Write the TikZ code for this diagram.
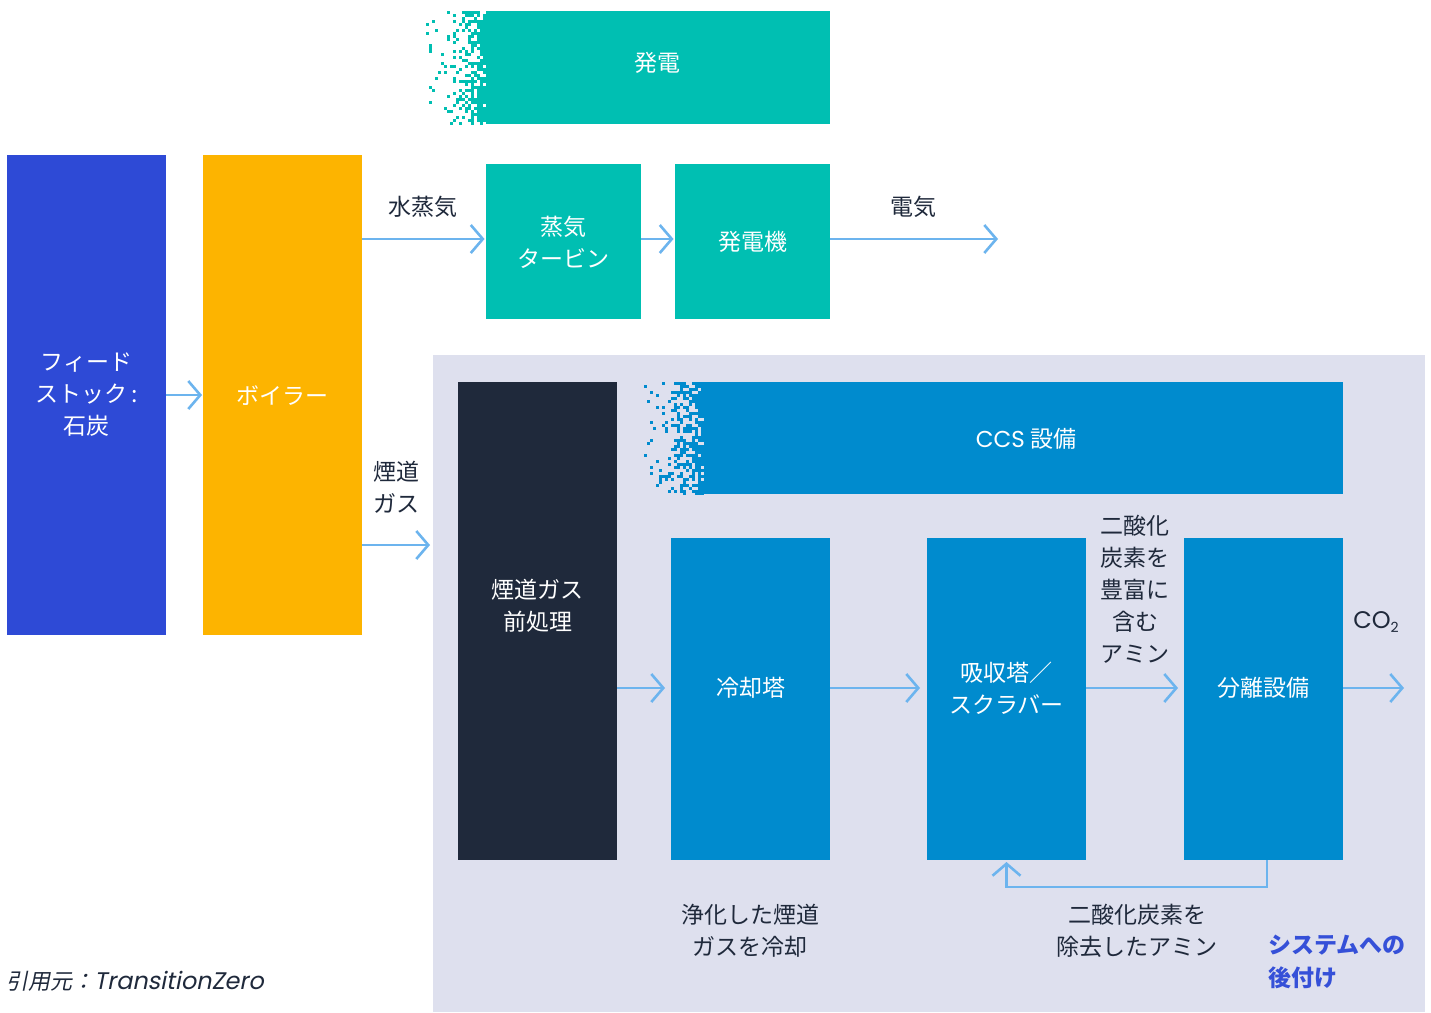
\documentclass[tikz,border=0pt]{standalone}
\usepackage{fontspec}
\setmainfont{Noto Sans CJK JP}
\newfontfamily\latinfont{Poppins}
\newfontfamily\latinit[FakeSlant=0.2]{Poppins}
\newfontfamily\citefont[FakeSlant=0.2]{Noto Sans CJK JP}
\usetikzlibrary{arrows.meta,calc}
\definecolor{feedblue}{HTML}{2E4AD6}
\definecolor{boilerc}{HTML}{FDB400}
\definecolor{tealc}{HTML}{00BFB2}
\definecolor{panelc}{HTML}{DEE0EE}
\definecolor{darkc}{HTML}{1F293B}
\definecolor{ccsblue}{HTML}{008BCE}
\definecolor{arrowc}{HTML}{6CB4EE}
\definecolor{textc}{HTML}{1F293B}
\definecolor{retroc}{HTML}{3550D8}
\tikzset{
  box/.style={draw=none, inner sep=0pt, outer sep=0pt, anchor=north west},
  boxtext/.style={text=white, align=center, font=\fontsize{23}{32}\selectfont, inner sep=0pt},
  lbl/.style={text=textc, align=center, font=\fontsize{23}{32}\selectfont, inner sep=0pt},
  flow/.style={draw=arrowc, line width=2.6pt, -{Straight Barb[length=12pt,width=28pt]}},
}
\def\dithprobs{0/0.04,1/0.05,2/0.06,3/0.07,4/0.08,5/0.09,6/0.11,7/0.13,8/0.15,9/0.18,10/0.25,11/0.30,12/0.36,13/0.42,14/0.48,15/0.55,16/0.62,17/0.70,18/0.78,19/0.86}
\begin{document}
\begin{tikzpicture}[x=1pt,y=-1pt]
\useasboundingbox[fill=white] (0,0) rectangle (1431,1012);

% panel
\node[box, fill=panelc, minimum width=992pt, minimum height=657pt] (panel) at (433,355) {};

% power header with dither
\node[box, fill=tealc, minimum width=344pt, minimum height=113pt] (power) at (486,11) {};
\begin{scope}
\clip (420,11) rectangle (486.5,124);
\pgfmathsetseed{12}
\foreach \i/\p in \dithprobs {
  \foreach \j in {0,...,37}{
    \pgfmathtruncatemacro\hit{rnd<\p ? 1 : 0}
    \ifnum\hit=1 \fill[tealc] ({426+3*\i},{11+3*\j}) rectangle ++(3.2,3.2);\fi
  }
}
\end{scope}
\node[boxtext] (t-power) at (657,63) {発電};

% CCS header with dither
\node[box, fill=ccsblue, minimum width=639pt, minimum height=112pt] (ccs) at (704,382) {};
\begin{scope}
\clip (638,382) rectangle (704.5,494);
\pgfmathsetseed{31}
\foreach \i/\p in \dithprobs {
  \foreach \j in {0,...,37}{
    \pgfmathtruncatemacro\hit{rnd<\p ? 1 : 0}
    \ifnum\hit=1 \fill[ccsblue] ({644+3*\i},{382+3*\j}) rectangle ++(3.2,3.2);\fi
  }
}
\end{scope}
\node[boxtext] (t-ccs) at (1026,439) {{\latinfont CCS} 設備};

% main boxes
\node[box, fill=feedblue, minimum width=159pt, minimum height=480pt] (feed) at (7,155) {};
\node[box, fill=boilerc, minimum width=159pt, minimum height=480pt] (boiler) at (203,155) {};
\node[box, fill=tealc, minimum width=155pt, minimum height=155pt] (turb) at (486,164) {};
\node[box, fill=tealc, minimum width=155pt, minimum height=155pt] (gen) at (675,164) {};
\node[box, fill=darkc, minimum width=159pt, minimum height=478pt] (pre) at (458,382) {};
\node[box, fill=ccsblue, minimum width=159pt, minimum height=322pt] (cool) at (671,538) {};
\node[box, fill=ccsblue, minimum width=159pt, minimum height=322pt] (abs) at (927,538) {};
\node[box, fill=ccsblue, minimum width=159pt, minimum height=322pt] (sep) at (1184,538) {};

% box texts
\node[boxtext] (t-feed) at (86.5,395) {フィード\\ストック\,:\\石炭};
\node[boxtext] (t-boiler) at (282,396) {ボイラー};
\node[boxtext] (t-turb) at (563.5,242) {蒸気\\タービン};
\node[boxtext] (t-gen) at (752.5,242) {発電機};
\node[boxtext] (t-pre) at (537.5,606) {煙道ガス\\前処理};
\node[boxtext] (t-cool) at (750.5,688) {冷却塔};
\node[boxtext] (t-abs) at (1006.5,688) {吸収塔／\\スクラバー};
\node[boxtext] (t-sep) at (1263.5,688) {分離設備};

% labels
\node[lbl] (l-steam) at (423,207) {水蒸気};
\node[lbl] (l-elec) at (913,207) {電気};
\node[lbl] (l-flue) at (396,487) {煙道\\ガス};
\node[lbl] (l-rich) at (1135,589) {二酸化\\炭素を\\豊富に\\含む\\アミン};
\node[lbl, font=\fontsize{24}{32}\selectfont\latinfont] (l-co2) at (1376,622) {CO\raisebox{-0.3ex}{\fontsize{14}{14}\selectfont 2}};
\node[lbl] (l-cooled) at (750,931) {浄化した煙道\\ガスを冷却};
\node[lbl] (l-lean) at (1137,931) {二酸化炭素を\\除去したアミン};
\node[lbl, text=retroc, align=left, anchor=west, font=\fontsize{23}{33}\selectfont\bfseries] (l-retro) at (1268,962) {システムへの\\後付け};
\node[lbl, anchor=west, font=\fontsize{22}{32}\selectfont\citefont] (l-cite) at (6,981) {引用元：{\fontsize{24}{32}\selectfont\latinit TransitionZero}};

% connectors
\coordinate (steamY) at (0,239);
\coordinate (elecEnd) at (998,239);
\coordinate (flueEnd) at (430,545);
\coordinate (rowY) at (0,688);
\coordinate (co2End) at (1404,688);
\coordinate (loopX) at (1267,0);
\draw[flow, shorten >=1pt] (feed.east) -- (boiler.west);
\draw[flow, shorten >=1.5pt] (boiler.east |- steamY) -- (turb.west |- steamY);
\draw[flow, shorten >=1.5pt] (turb.east |- steamY) -- (gen.west |- steamY);
\draw[flow] (gen.east |- steamY) -- (elecEnd);
\draw[flow] (boiler.east |- flueEnd) -- (flueEnd);
\draw[flow, shorten >=6pt] (pre.east |- rowY) -- (cool.west |- rowY);
\draw[flow, shorten >=7pt] (cool.east |- rowY) -- (abs.west |- rowY);
\draw[flow, shorten >=6pt] (abs.east |- rowY) -- (sep.west |- rowY);
\draw[flow] (sep.east |- rowY) -- (co2End);
\draw[flow, shorten >=2pt] (sep.south -| loopX) -- ++(0,27) -| (abs.south);
\end{tikzpicture}
\end{document}
